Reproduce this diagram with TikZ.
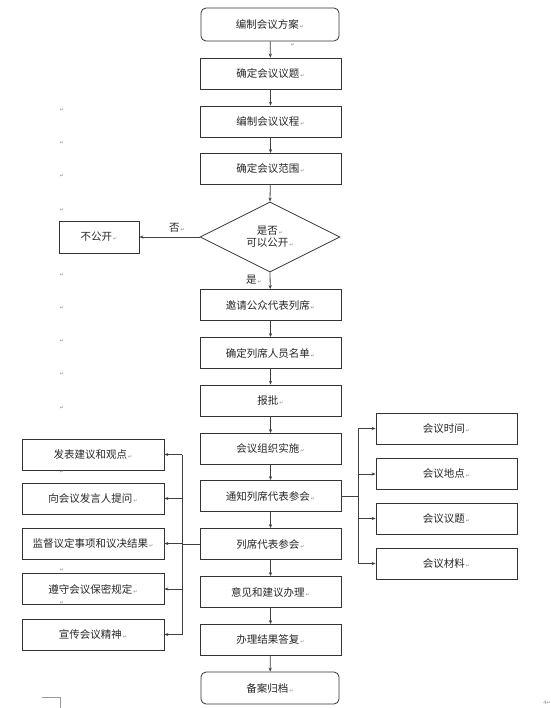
\documentclass[tikz,border=0pt]{standalone}
\usepackage{fontspec}
\setmainfont{Noto Sans CJK SC}
\newfontfamily\symfont{DejaVu Sans}
\usetikzlibrary{arrows.meta,shapes.geometric}
\newcommand\retmark{{\symfont\fontsize{5}{5}\selectfont\color{black!45}\,↵}}
\tikzset{
  box/.style={draw=black!80, line width=0.8pt, minimum width=141pt, minimum height=31pt, inner sep=0pt, font=\fontsize{10.5}{12}\selectfont, text=black!85},
  rbox/.style={box, rounded corners=5pt, minimum width=138pt, minimum height=33pt},
  arr/.style={draw=black!75, line width=0.8pt, -{Stealth[length=4pt,width=3.2pt]}},
  ln/.style={draw=black!75, line width=0.8pt},
  ret/.style={font=\symfont\fontsize{5}{5}\selectfont, text=black!45, inner sep=0pt},
  lbl/.style={font=\fontsize{10.5}{12}\selectfont, text=black!85, inner sep=0pt}
}
\begin{document}
\begin{tikzpicture}[x=1pt,y=-1pt]
\useasboundingbox (0,0) rectangle (550,708);
% main column
\node[rbox] (top) at (270,24.5) {编制会议方案\retmark};
\node[box] (b2) at (270.5,73.5) {确定会议议题\retmark};
\node[box] (b3) at (270.5,121.5) {编制会议议程\retmark};
\node[box] (b4) at (270.5,169) {确定会议范围\retmark};
\node[diamond, draw=black!80, line width=0.8pt, aspect=2, minimum width=140pt, minimum height=70pt, inner sep=0pt, align=center, font=\fontsize{10.5}{12.5}\selectfont, text=black!85] (dia) at (270,237) {是否\retmark\\可以公开\retmark};
\node[box, minimum width=80pt, minimum height=32pt] (np) at (99,237) {不公开\retmark};
\node[lbl] (no) at (177,228) {否\retmark};
\node[lbl] (yes) at (254,280) {是\retmark};
\node[box] (b5) at (270.5,305) {邀请公众代表列席\retmark};
\node[box] (b6) at (270.5,353) {确定列席人员名单\retmark};
\node[box] (b7) at (270.5,400.5) {报批\retmark};
\node[box] (b8) at (270.5,449) {会议组织实施\retmark};
\node[box] (b9) at (270.5,496) {通知列席代表参会\retmark};
\node[box] (b10) at (270.5,544) {列席代表参会\retmark};
\node[box] (b11) at (270.5,592) {意见和建议办理\retmark};
\node[box] (b12) at (270.5,640) {办理结果答复\retmark};
\node[rbox, minimum height=32pt] (end) at (270,688) {备案归档\retmark};
% right boxes
\node[box] (r1) at (446.5,428.5) {会议时间\retmark};
\node[box] (r2) at (446.5,474) {会议地点\retmark};
\node[box] (r3) at (446.5,518.5) {会议议题\retmark};
\node[box] (r4) at (446.5,563.5) {会议材料\retmark};
% left boxes
\node[box, minimum width=142pt] (l1) at (93,454.5) {发表建议和观点\retmark};
\node[box, minimum width=142pt] (l2) at (93,498.5) {向会议发言人提问\retmark};
\node[box, minimum width=142pt] (l3) at (93,543.5) {监督议定事项和议决结果\retmark};
\node[box, minimum width=142pt] (l4) at (93,589) {遵守会议保密规定\retmark};
\node[box, minimum width=142pt] (l5) at (93,634.5) {宣传会议精神\retmark};
% main arrows
\draw[arr] (top) -- (b2);
\draw[arr] (b2) -- (b3);
\draw[arr] (b3) -- (b4);
\draw[arr] (b4) -- (dia.north);
\draw[arr] (dia.west) -- (np.east);
\draw[arr] (dia.south) -- (b5);
\draw[arr] (b5) -- (b6);
\draw[arr] (b6) -- (b7);
\draw[arr] (b7) -- (b8);
\draw[arr] (b8) -- (b9);
\draw[arr] (b9) -- (b10);
\draw[arr] (b10) -- (b11);
\draw[arr] (b11) -- (b12);
\draw[arr] (b12) -- (end);
% right bus
\coordinate (rb) at (358,496);
\draw[ln] (b9.east) -- (rb);
\draw[ln] (rb |- r1) -- (rb |- r4);
\foreach \n in {r1,r2,r3,r4} \draw[arr] (rb |- \n) -- (\n.west);
% left bus
\coordinate (lb) at (182,544);
\draw[ln] (b10.west) -- (lb);
\draw[ln] (lb |- l1) -- (lb |- l5);
\foreach \n in {l1,l2,l3,l4,l5} \draw[arr] (lb |- \n) -- (\n.east);
% stray paragraph marks
\node[ret] (m0) at (293,45) {↵};
\node[ret] (m1) at (62,110) {↵};
\node[ret] (m2) at (62,143) {↵};
\node[ret] (m3) at (62,176) {↵};
\node[ret] (m4) at (62,210) {↵};
\node[ret] (m5) at (62,275) {↵};
\node[ret] (m6) at (62,308) {↵};
\node[ret] (m7) at (62,341) {↵};
\node[ret] (m8) at (62,374) {↵};
\node[ret] (m9) at (62,408) {↵};
\node[ret] (m10) at (62,472) {↵};
\node[ret] (m11) at (62,570) {↵};
\node[ret] (m12) at (62,603) {↵};
\node[ret] (m13) at (547,703) {4↵};
% corner mark
\draw[draw=black!40, line width=0.5pt] (42,697) -- (60,697) -- (60,708);
\end{tikzpicture}
\end{document}
